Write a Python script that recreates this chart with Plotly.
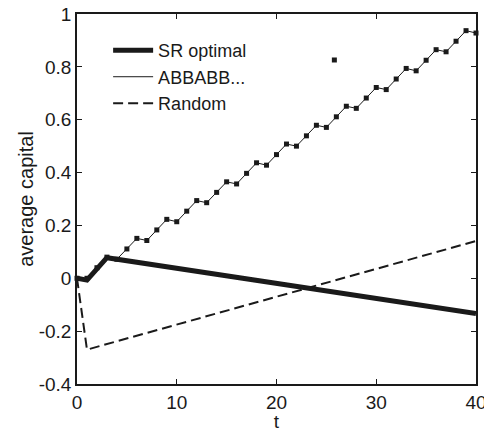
import plotly.graph_objects as go

t_abb = list(range(41))
abb_vals = [0.000, 0.000, 0.040, 0.080, 0.072, 0.111, 0.151, 0.143, 0.183, 0.223,
            0.214, 0.254, 0.294, 0.286, 0.325, 0.365, 0.357, 0.397, 0.437, 0.428,
            0.468, 0.508, 0.500, 0.539, 0.579, 0.571, 0.611, 0.651, 0.643, 0.682,
            0.722, 0.714, 0.754, 0.794, 0.785, 0.825, 0.865, 0.857, 0.897, 0.937,
            0.928]

t_sr = [0, 1, 3, 40]
sr_vals = [0.000, -0.007, 0.078, -0.133]

t_rand = [0, 1, 40]
rand_vals = [0.000, -0.270, 0.141]

t_stray = [25.8]
stray_vals = [0.826]

x_ticks = [0, 10, 20, 30, 40]
y_ticks = [-0.4, -0.2, 0, 0.2, 0.4, 0.6, 0.8, 1]
y_tick_text = ["-0.4", "-0.2", "0", "0.2", "0.4", "0.6", "0.8", "1"]

INK = "#1a1a1a"
FONT = "Liberation Sans, Arial, sans-serif"

fig = go.Figure()
fig.add_trace(go.Scatter(x=t_abb, y=abb_vals, mode="markers", showlegend=False,
                         marker=dict(symbol="square", size=5, color=INK, line=dict(width=0)),
                         cliponaxis=False))
fig.add_trace(go.Scatter(x=t_stray, y=stray_vals, mode="markers", showlegend=False,
                         marker=dict(symbol="square", size=5, color=INK, line=dict(width=0))))
fig.add_trace(go.Scatter(x=t_rand, y=rand_vals, mode="lines", name="Random", legendrank=3,
                         line=dict(color=INK, width=2, dash="10px,5px")))
fig.add_trace(go.Scatter(x=t_sr, y=sr_vals, mode="lines", name="SR optimal", legendrank=1,
                         line=dict(color=INK, width=5)))
fig.add_trace(go.Scatter(x=t_abb, y=abb_vals, mode="lines", name="ABBABB...", legendrank=2,
                         line=dict(color=INK, width=1)))

fig.update_layout(
    width=484, height=432,
    margin=dict(l=77, r=8, t=14, b=48),
    paper_bgcolor="white", plot_bgcolor="white",
    font=dict(family=FONT, size=19, color=INK),
    legend=dict(x=0.078, y=0.951, xanchor="left", yanchor="top",
                bgcolor="rgba(0,0,0,0)", font=dict(size=18), itemwidth=40),
    xaxis=dict(range=[0, 40], tickvals=x_ticks, ticks="inside", ticklen=5,
               tickcolor=INK, showline=True, linecolor=INK, linewidth=1.5,
               mirror="ticks", showgrid=False, zeroline=False, automargin=False,
               ticklabeloverflow="allow",
               title=dict(text="t", standoff=0, font=dict(size=19))),
    yaxis=dict(range=[-0.4, 1], tickvals=y_ticks, ticktext=y_tick_text,
               ticks="inside", ticklen=5, tickcolor=INK, showline=True,
               linecolor=INK, linewidth=1.5, mirror="ticks", showgrid=False,
               zeroline=False, automargin=False, ticklabeloverflow="allow",
               title=dict(text="average capital", standoff=0, font=dict(size=20))),
)

fig.write_html("out.html", config={"displayModeBar": False},
               post_script="document.body.style.margin='0';document.body.style.overflow='hidden';")
